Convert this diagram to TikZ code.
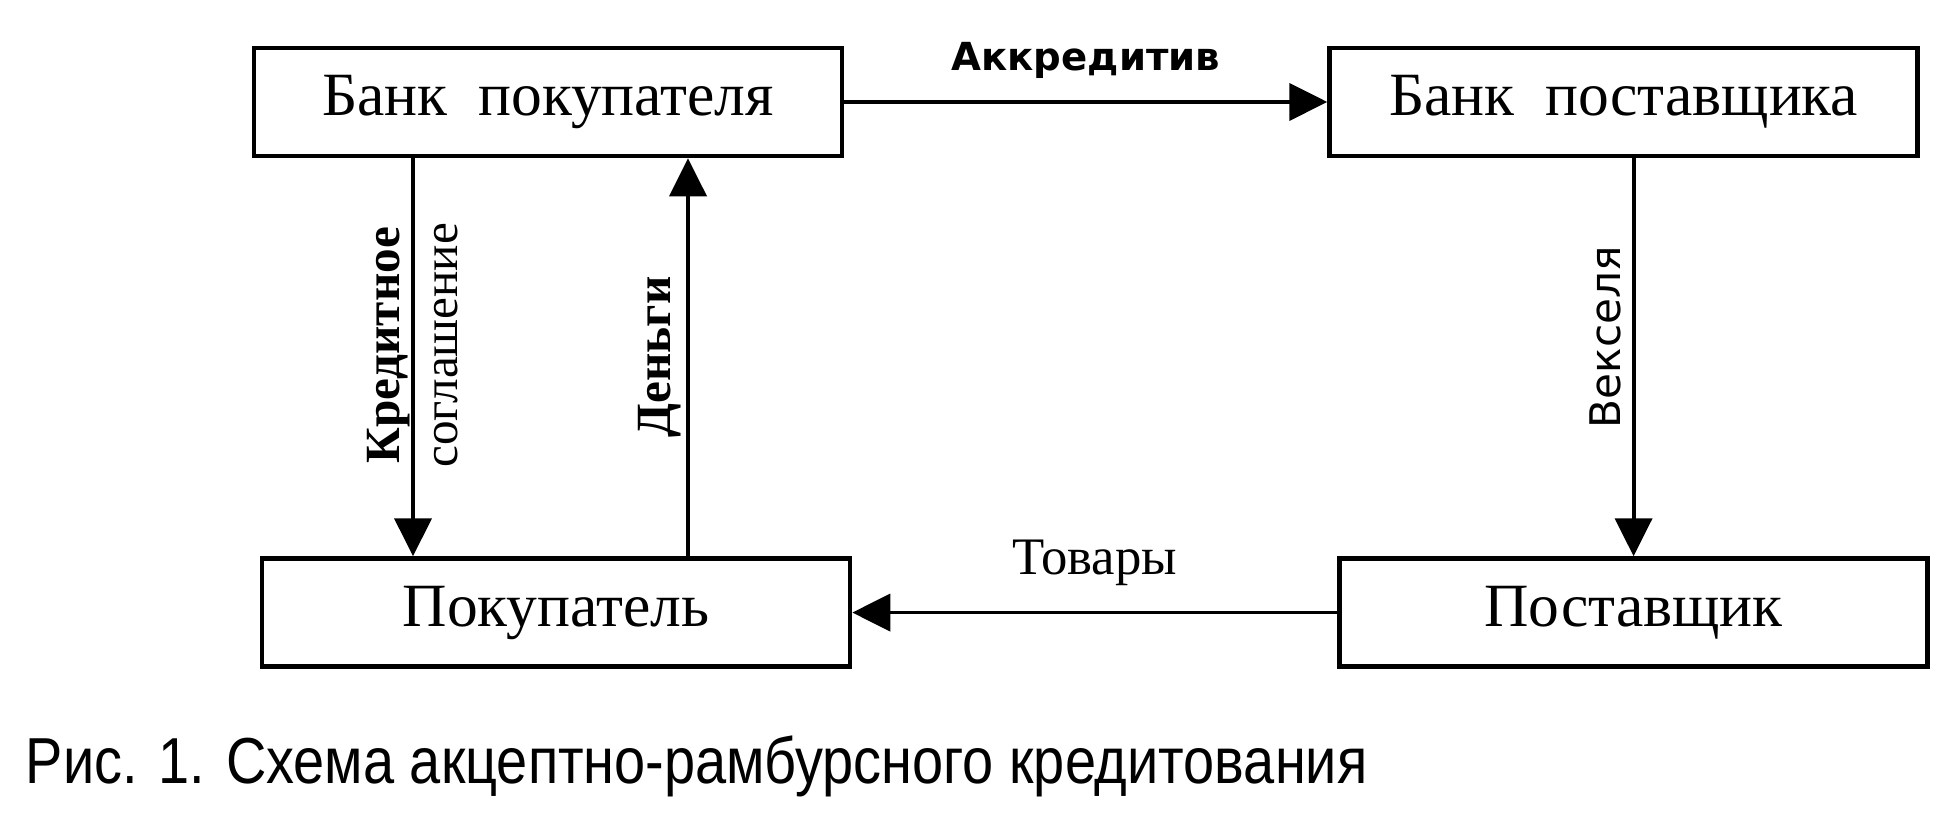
\documentclass[tikz,border=0pt]{standalone}
\usepackage{fontspec}
\setmainfont{Liberation Serif}
\newfontfamily\dejavu{DejaVu Sans}
\newfontfamily\capfont[FakeStretch=0.86]{Liberation Sans}
\usepackage{tikz}
\usetikzlibrary{positioning, arrows.meta}
\tikzstyle{blk}=[%
      rectangle, draw=black, line width=1.3pt, fill=none,
      minimum height=1.08cm, minimum width=5.88cm, inner sep=0pt,
      font=\fontsize{17.5}{20}\selectfont
]
\tikzstyle{vlbl}=[%
      rotate=90, inner sep=4pt, align=center
]
\begin{document}
\begin{tikzpicture}[auto,
    ->,
    >={Triangle[length=0.38cm,width=0.37cm]},
    line width=1.1pt
  ]
    \useasboundingbox (0,0) rectangle (19.44,-8.24);
    \node[blk] (bbank) at (5.48,-1.02) {Банк\ \ покупателя};
    \node[blk] (bsup) [right = 4.83cm of bbank] {Банк\ \ поставщика};
    \node[blk] (buyer) [below = 3.98cm of bbank, xshift=0.08cm] {Покупатель};
    \node[blk] (supp) [below = 3.98cm of bsup, xshift=0.1cm] {Поставщик};

    \path (bbank) edge node[font=\dejavu\bfseries\fontsize{11}{13}\selectfont, inner sep=6pt] {Аккредитив} (bsup)
          (supp) edge node[swap, font=\fontsize{15}{18}\selectfont, inner sep=7pt] {Товары} (buyer)
          ([xshift=0.1cm]bsup.south) edge node[vlbl, anchor=south, pos=0.45, inner sep=3pt, font=\dejavu\fontsize{12}{14}\selectfont] {Векселя} (supp.north)
          ([xshift=-1.35cm]bbank.south) edge node[vlbl, anchor=center, pos=0.47, font=\fontsize{14}{16.5}\selectfont] {\textbf{Кредитное}\\соглашение} ([xshift=-1.35cm]bbank.south |- buyer.north)
          ([xshift=1.4cm]bbank.south |- buyer.north) edge node[vlbl, anchor=south, inner sep=1.5pt, font=\bfseries\fontsize{14}{16}\selectfont] {Деньги} ([xshift=1.4cm]bbank.south)
    ;

    \node[anchor=base west, inner sep=0pt, font=\capfont\fontsize{18.5}{22}\selectfont] (cap) at (0.24,-7.84) {Рис. 1. Схема акцептно-рамбурсного кредитования};
  \end{tikzpicture}
\end{document}
